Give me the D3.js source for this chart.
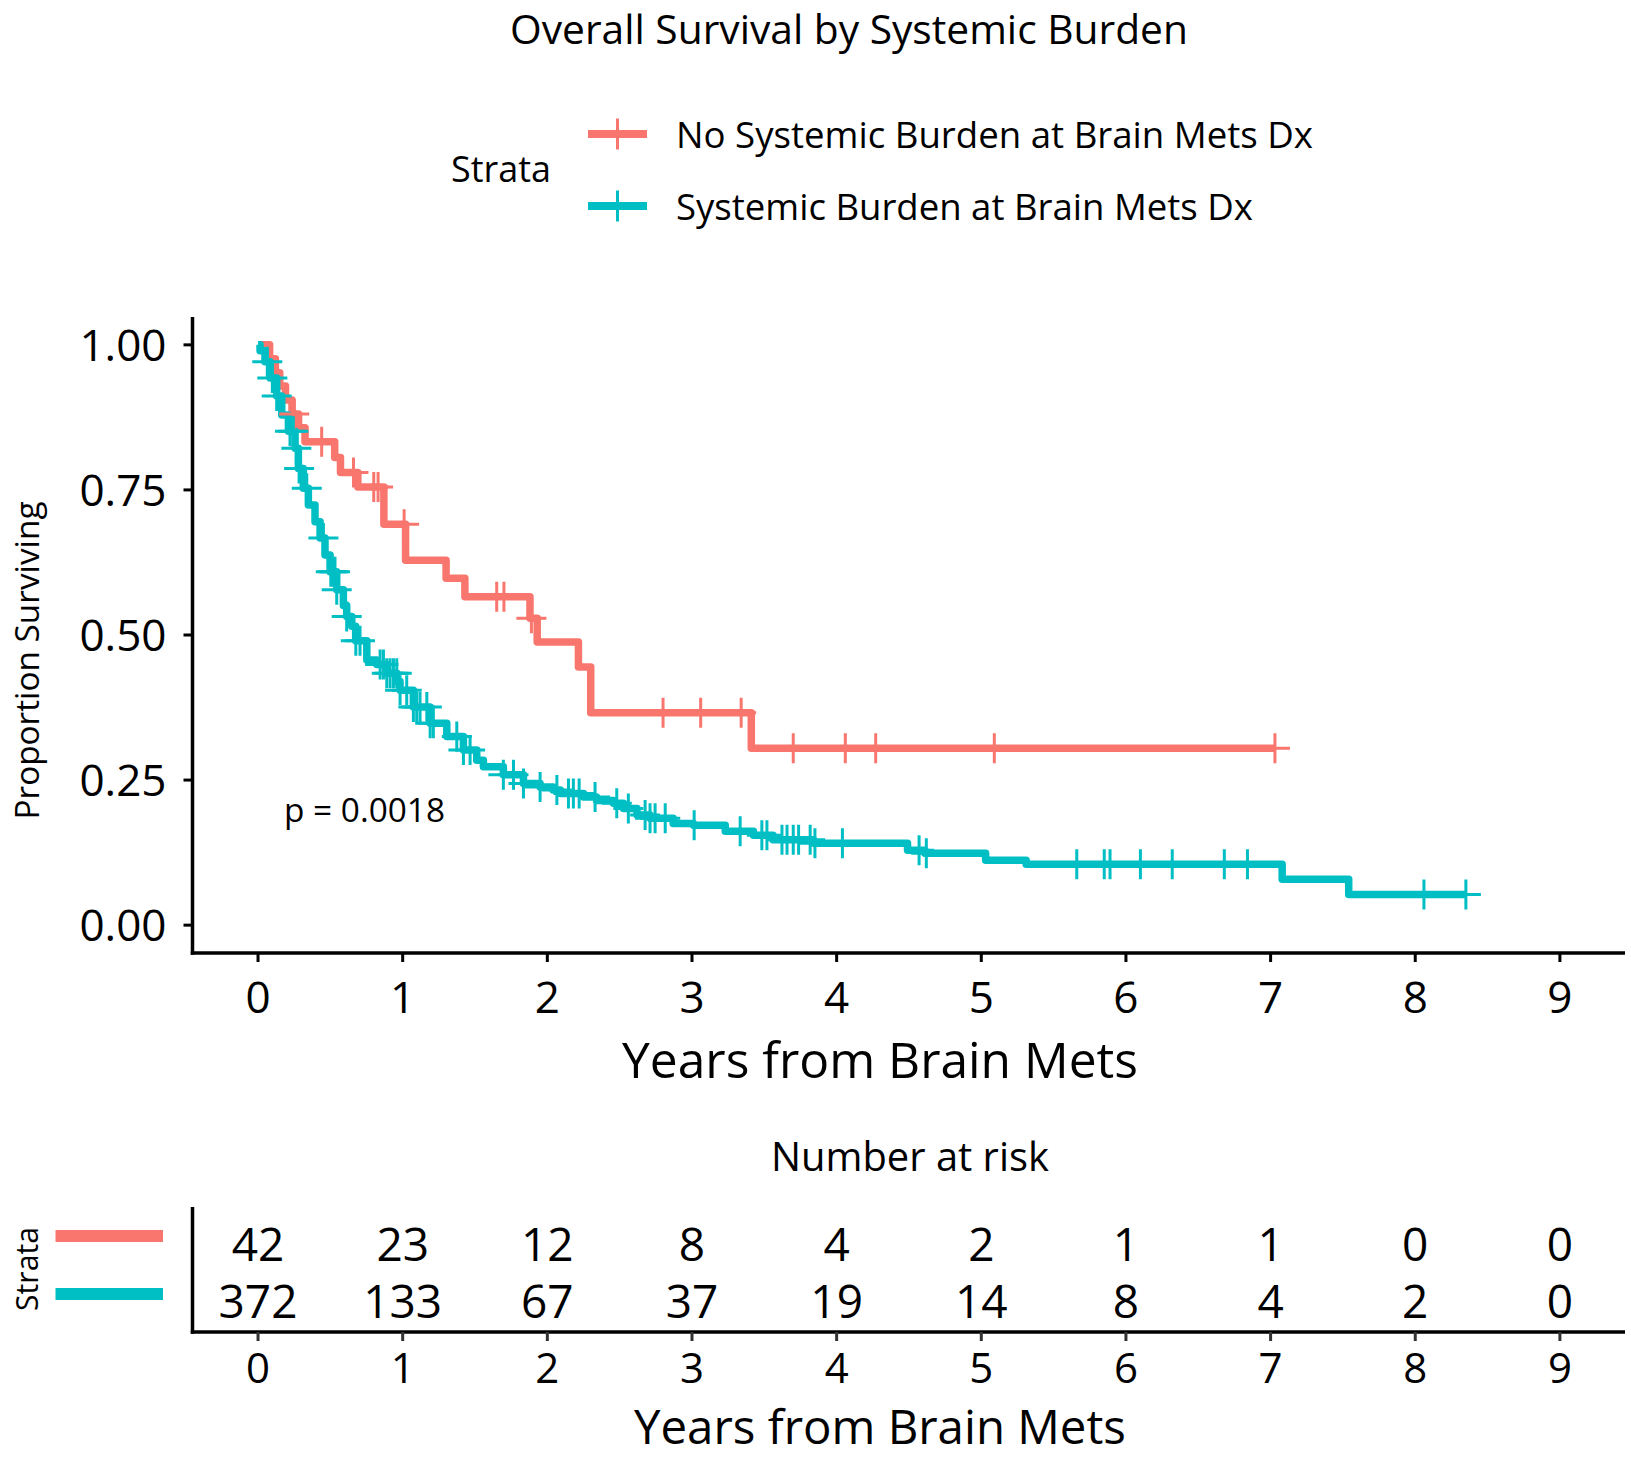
<!DOCTYPE html>
<html>
<head>
<meta charset="utf-8">
<script src="https://cdn.jsdelivr.net/npm/d3@7"></script>
<style>
  html, body { margin: 0; padding: 0; background: #fff; }
  svg { display: block; }
  text { font-family: "Open Sans", "Noto Sans", sans-serif; fill: #000; }
</style>
</head>
<body>
<svg id="chart" width="1631" height="1460"></svg>
<script>
// ---------------- DATA ----------------
const chartTitle = "Overall Survival by Systemic Burden";
const legendTitle = "Strata";
const strataNames = ["No Systemic Burden at Brain Mets Dx", "Systemic Burden at Brain Mets Dx"];
const strataColors = ["#F8766D", "#00BFC4"];

// Kaplan-Meier steps [time (years), survival]
const noBurdenSteps = [
  [0, 1.0], [0.08, 0.976], [0.12, 0.952], [0.15, 0.929], [0.19, 0.905],
  [0.235, 0.881], [0.28, 0.857], [0.325, 0.833], [0.53, 0.806], [0.57, 0.780],
  [0.69, 0.755], [0.87, 0.691], [1.02, 0.629], [1.30, 0.598], [1.43, 0.566],
  [1.88, 0.529], [1.93, 0.488], [2.215, 0.445], [2.30, 0.366], [3.41, 0.305]
];
const noBurdenEnd = 7.03;
const noBurdenCensor = [0.25, 0.44, 0.66, 0.80, 0.83, 1.01, 1.65, 1.70, 1.89,
  2.80, 3.06, 3.34, 3.70, 4.06, 4.27, 5.09, 7.03];

const burdenSteps = [
  [0, 1.0], [0.014, 0.99], [0.048, 0.971], [0.083, 0.943], [0.129, 0.912],
  [0.164, 0.879], [0.21, 0.851], [0.256, 0.822], [0.279, 0.787], [0.313, 0.753],
  [0.348, 0.724], [0.394, 0.695], [0.429, 0.667], [0.463, 0.638], [0.498, 0.609],
  [0.544, 0.578], [0.59, 0.551], [0.613, 0.532], [0.648, 0.515], [0.675, 0.49],
  [0.752, 0.457], [0.821, 0.449], [0.89, 0.434], [0.96, 0.42], [0.982, 0.405],
  [1.074, 0.376], [1.19, 0.348], [1.305, 0.325], [1.42, 0.302], [1.512, 0.284],
  [1.558, 0.273], [1.696, 0.259], [1.835, 0.244], [1.95, 0.238], [2.04, 0.233],
  [2.09, 0.227], [2.25, 0.221], [2.34, 0.215], [2.457, 0.21], [2.526, 0.201],
  [2.62, 0.19], [2.71, 0.184], [2.87, 0.175], [3.01, 0.172], [3.23, 0.162],
  [3.425, 0.155], [3.56, 0.147], [3.84, 0.141], [4.49, 0.129], [4.61, 0.124],
  [5.03, 0.112], [5.31, 0.105], [7.08, 0.079], [7.54, 0.053]
];
const burdenEnd = 8.35;
const burdenCensor = [0.064, 0.099, 0.129, 0.221, 0.244, 0.265, 0.284, 0.337,
  0.452, 0.503, 0.521, 0.532, 0.544, 0.613, 0.676, 0.705, 0.844, 0.867, 0.89,
  0.913, 0.936, 0.959, 0.982, 1.028, 1.074, 1.097, 1.12, 1.167, 1.19, 1.212,
  1.374, 1.42, 1.466, 1.696, 1.766, 1.835, 1.95, 2.066, 2.146, 2.18, 2.22,
  2.33, 2.48, 2.56, 2.676, 2.71, 2.745, 2.815, 3.015, 3.333, 3.483, 3.518,
  3.622, 3.657, 3.70, 3.737, 3.817, 3.85, 4.04, 4.57, 4.62, 5.66, 5.85, 5.89,
  6.10, 6.32, 6.68, 6.84, 8.06, 8.35];

const xTicks = [0, 1, 2, 3, 4, 5, 6, 7, 8, 9];
const yTicks = [0, 0.25, 0.5, 0.75, 1.0];
const yTickLabels = ["0.00", "0.25", "0.50", "0.75", "1.00"];
const xTitle = "Years from Brain Mets";
const yTitle = "Proportion Surviving";
const pLabel = "p = 0.0018";

const riskTitle = "Number at risk";
const riskNoBurden = [42, 23, 12, 8, 4, 2, 1, 1, 0, 0];
const riskBurden = [372, 133, 67, 37, 19, 14, 8, 4, 2, 0];

// ---------------- LAYOUT ----------------
const svg = d3.select("#chart");
const L = { axisLeft: 192.5, axisRight: 1625, plotTop: 317, plotBottom: 953,
            riskTop: 1207, riskBottom: 1332 };

const x = d3.scaleLinear().domain([-0.453, 9.45]).range([L.axisLeft, L.axisRight]);
const y = d3.scaleLinear().domain([-0.048, 1.048]).range([L.plotBottom, L.plotTop]);

function fitWidth(sel, target) {
  const w = sel.node().getComputedTextLength();
  const fs = parseFloat(sel.attr("font-size"));
  sel.attr("font-size", (fs * target / w).toFixed(2));
  return sel;
}

// Title
fitWidth(svg.append("text").attr("x", 849).attr("y", 44).attr("text-anchor", "middle")
  .attr("font-size", 40).text(chartTitle), 678);

// Legend
fitWidth(svg.append("text").attr("x", 451).attr("y", 182).attr("font-size", 40).text(legendTitle), 100);
const legendY = [134, 206];
const labelTargets = [637, 577];
strataNames.forEach((name, i) => {
  const g = svg.append("g");
  g.append("line").attr("x1", 588).attr("x2", 647).attr("y1", legendY[i]).attr("y2", legendY[i])
    .attr("stroke", strataColors[i]).attr("stroke-width", 8);
  g.append("line").attr("x1", 617.5).attr("x2", 617.5).attr("y1", legendY[i] - 15.5).attr("y2", legendY[i] + 15.5)
    .attr("stroke", strataColors[i]).attr("stroke-width", 3);
  fitWidth(g.append("text").attr("x", 676).attr("y", legendY[i] + 14).attr("font-size", 40).text(name), labelTargets[i]);
});

// Axes (main)
const axes = svg.append("g").attr("stroke", "#000");
axes.append("line").attr("x1", L.axisLeft).attr("x2", L.axisLeft)
  .attr("y1", L.plotTop).attr("y2", L.plotBottom + 1.75).attr("stroke-width", 3.5);
axes.append("line").attr("x1", L.axisLeft - 1.75).attr("x2", L.axisRight)
  .attr("y1", L.plotBottom).attr("y2", L.plotBottom).attr("stroke-width", 3.5);
yTicks.forEach(v => {
  axes.append("line").attr("x1", L.axisLeft - 9).attr("x2", L.axisLeft)
    .attr("y1", y(v)).attr("y2", y(v)).attr("stroke-width", 3);
});
xTicks.forEach(v => {
  axes.append("line").attr("x1", x(v)).attr("x2", x(v))
    .attr("y1", L.plotBottom).attr("y2", L.plotBottom + 9).attr("stroke-width", 3);
});
const tickFs = 44;
yTicks.forEach((v, i) => {
  svg.append("text").attr("x", 166.5).attr("y", y(v) + tickFs * 0.357).attr("text-anchor", "end")
    .attr("font-size", tickFs).text(yTickLabels[i]);
});
xTicks.forEach(v => {
  svg.append("text").attr("x", x(v)).attr("y", 1013).attr("text-anchor", "middle")
    .attr("font-size", tickFs).text(String(v));
});
fitWidth(svg.append("text").attr("x", 880).attr("y", 1078).attr("text-anchor", "middle")
  .attr("font-size", 56).text(xTitle), 516);
fitWidth(svg.append("text").attr("transform", "translate(39,660.5) rotate(-90)")
  .attr("text-anchor", "middle").attr("font-size", 30).text(yTitle), 318);

// Curves
const line = d3.line().x(d => x(d[0])).y(d => y(d[1])).curve(d3.curveStepAfter);
function survAt(steps, t) {
  let s = steps[0][1];
  for (const p of steps) { if (p[0] <= t) s = p[1]; else break; }
  return s;
}
const series = [
  { steps: noBurdenSteps, end: noBurdenEnd, censor: noBurdenCensor, color: strataColors[0] },
  { steps: burdenSteps, end: burdenEnd, censor: burdenCensor, color: strataColors[1] }
];
const curves = svg.append("g");
series.forEach(s => {
  const pts = s.steps.concat([[s.end, s.steps[s.steps.length - 1][1]]]);
  curves.append("path").attr("d", line(pts)).attr("fill", "none")
    .attr("stroke", s.color).attr("stroke-width", 7.5)
    .attr("stroke-linejoin", "round").attr("stroke-linecap", "butt");
});
series.forEach(s => {
  s.censor.forEach(t => {
    const cx = x(t), cy = y(survAt(s.steps, t));
    curves.append("path").attr("d", `M${cx - 15},${cy}H${cx + 15}M${cx},${cy - 15}V${cy + 15}`)
      .attr("stroke", s.color).attr("stroke-width", 3).attr("fill", "none");
  });
});

// p-value
fitWidth(svg.append("text").attr("x", 284).attr("y", 822).attr("font-size", 34).text(pLabel), 161);

// ---------------- RISK TABLE ----------------
fitWidth(svg.append("text").attr("x", 910).attr("y", 1171).attr("text-anchor", "middle")
  .attr("font-size", 40).text(riskTitle), 278);
const raxes = svg.append("g");
raxes.append("line").attr("x1", L.axisLeft).attr("x2", L.axisLeft)
  .attr("y1", L.riskTop).attr("y2", L.riskBottom + 1.75).attr("stroke", "#000").attr("stroke-width", 3.5);
raxes.append("line").attr("x1", L.axisLeft - 1.75).attr("x2", L.axisRight)
  .attr("y1", L.riskBottom).attr("y2", L.riskBottom).attr("stroke", "#000").attr("stroke-width", 3.5);
xTicks.forEach(v => {
  raxes.append("line").attr("x1", x(v)).attr("x2", x(v))
    .attr("y1", L.riskBottom).attr("y2", L.riskBottom + 9).attr("stroke", "#333").attr("stroke-width", 3);
  svg.append("text").attr("x", x(v)).attr("y", 1383).attr("text-anchor", "middle")
    .attr("font-size", 42).text(String(v));
});
const riskRows = [riskNoBurden, riskBurden];
const riskBase = [1261, 1318];
const riskBarY = [1236, 1294];
riskRows.forEach((row, i) => {
  row.forEach((n, j) => {
    svg.append("text").attr("x", x(xTicks[j])).attr("y", riskBase[i]).attr("text-anchor", "middle")
      .attr("font-size", 46).text(String(n));
  });
  svg.append("line").attr("x1", 55.5).attr("x2", 163).attr("y1", riskBarY[i]).attr("y2", riskBarY[i])
    .attr("stroke", strataColors[i]).attr("stroke-width", 12);
});
fitWidth(svg.append("text").attr("transform", "translate(38,1269) rotate(-90)")
  .attr("text-anchor", "middle").attr("font-size", 30).text(legendTitle), 84);
fitWidth(svg.append("text").attr("x", 880).attr("y", 1444).attr("text-anchor", "middle")
  .attr("font-size", 56).text(xTitle), 492);
</script>
</body>
</html>
